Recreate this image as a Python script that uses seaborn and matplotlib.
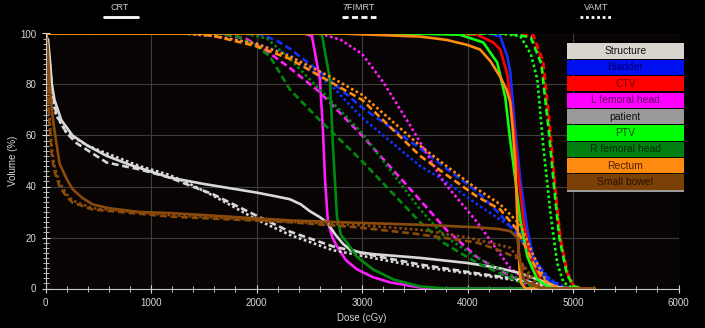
import pandas as pd
import matplotlib
matplotlib.use('Agg')
import matplotlib.pyplot as plt
from matplotlib.lines import Line2D
from matplotlib.patches import Rectangle
from matplotlib.ticker import MultipleLocator
import seaborn as sns

structures = ['Bladder', 'CTV', 'L femoral head', 'patient', 'PTV',
              'R femoral head', 'Rectum', 'Small bowel']
techniques = ['CRT', '7FIMRT', 'VAMT']

# DVH points (dose cGy, volume %)
bladder_crt = [(0, 100), (4200, 100), (4310, 99), (4377, 91), (4405, 85), (4453, 62), (4500, 43),
               (4567, 23), (4623, 12.5), (4718, 4.7), (4785, 2.4), (4900, 0), (5200, 0)]
bladder_7f = [(0, 100), (1800, 100), (2060, 99.5), (2200, 97), (2317, 94), (2600, 85), (3000, 71),
              (3551, 55), (3769, 48), (4092, 38), (4310, 29), (4472, 21), (4623, 12.5), (4750, 4.7),
              (4900, 0), (5200, 0)]
bladder_vamt = [(0, 100), (1300, 100), (1600, 99), (2000, 96), (2317, 91.5), (2700, 80), (3000, 67),
                (3551, 48), (3769, 42.7), (4092, 33), (4310, 27), (4500, 22), (4623, 11.5), (4785, 3.5),
                (4950, 0), (5200, 0)]

ctv_crt = [(0, 100), (3700, 100), (4092, 99.5), (4244, 96.5), (4310, 93.7), (4377, 84), (4434, 65),
           (4481, 45), (4529, 27), (4595, 12.5), (4690, 3.5), (4785, 0.8), (4900, 0), (5200, 0)]
ctv_7f = [(0, 100), (4500, 100), (4623, 99.5), (4718, 89), (4785, 62), (4832, 39), (4880, 20),
          (4946, 6), (5003, 0.8), (5080, 0), (5200, 0)]
ctv_vamt = [(0, 100), (4450, 100), (4600, 99), (4700, 90), (4770, 65), (4830, 40), (4880, 20),
            (4950, 6), (5010, 1), (5100, 0), (5200, 0)]

lfem_crt = [(0, 100), (2450, 100), (2525, 99), (2601, 82), (2630, 62), (2649, 43), (2677, 26),
            (2720, 20), (2763, 16.5), (2850, 11), (2953, 7.5), (3100, 4.5), (3266, 2.4), (3551, 0.4),
            (3700, 0), (5200, 0)]
lfem_7f = [(0, 100), (1650, 100), (1900, 98), (2100, 93), (2300, 87), (2600, 77), (3000, 60),
           (3500, 37), (3800, 23), (4100, 12), (4400, 5), (4600, 1), (4700, 0), (5200, 0)]
lfem_vamt = [(0, 100), (2600, 100), (2800, 97.5), (3000, 92), (3200, 81), (3456, 64), (3769, 42),
             (4092, 26), (4405, 8), (4600, 2), (4800, 0), (5200, 0)]

patient_crt = [(0, 100), (25, 97), (45, 88), (60, 80), (85, 74), (150, 66), (256, 60), (400, 56),
               (580, 52), (800, 48.5), (1177, 43.5), (1500, 41), (2003, 37.6), (2200, 36),
               (2317, 35), (2420, 33), (2506, 30.3), (2600, 28), (2668, 25.9), (2750, 21),
               (2820, 17.5), (2886, 15.3), (2980, 14.2), (3100, 13.5), (3551, 12), (4000, 10),
               (4300, 8), (4500, 6), (4700, 3), (4850, 0.5), (5000, 0), (5200, 0)]
patient_7f = [(0, 100), (25, 96), (45, 86), (70, 76), (104, 68), (200, 61), (294, 57), (580, 49.4),
              (892, 46.7), (1177, 43.5), (1367, 40.4), (1585, 37), (2003, 28.5), (2317, 22.3),
              (2725, 16.5), (3100, 13), (3551, 9.4), (4000, 6.5), (4500, 3.5), (4700, 1.5), (4850, 0),
              (5200, 0)]
patient_vamt = [(0, 100), (25, 95), (45, 84), (60, 76), (100, 68), (200, 61), (400, 56), (580, 53),
                (892, 48), (1177, 44.5), (1367, 41), (1585, 36.5), (2003, 27), (2317, 21), (2725, 15),
                (3100, 12), (3551, 8.5), (4000, 6), (4500, 3), (4700, 1), (4850, 0), (5200, 0)]

ptv_crt = [(0, 100), (3500, 100), (3930, 99.5), (4149, 96.5), (4282, 88.6), (4358, 75), (4405, 58),
           (4453, 43), (4500, 27), (4567, 12.5), (4662, 3.5), (4760, 0.8), (4850, 0), (5200, 0)]
ptv_7f = [(0, 100), (4400, 100), (4600, 98.5), (4700, 88), (4770, 62), (4820, 40), (4870, 20),
          (4940, 6), (5000, 1), (5080, 0), (5200, 0)]
ptv_vamt = [(0, 100), (4300, 100), (4500, 99), (4600, 92), (4662, 82), (4718, 56), (4785, 30),
            (4850, 10), (4910, 2.4), (5000, 0), (5200, 0)]

rfem_crt = [(0, 100), (2550, 100), (2620, 99.6), (2696, 82), (2725, 55.7), (2763, 28), (2800, 21),
            (2858, 18), (2950, 12.5), (3104, 7.5), (3300, 3.5), (3551, 0.8), (3800, 0), (5200, 0)]
rfem_7f = [(0, 100), (1600, 100), (1813, 99), (2000, 95), (2127, 91), (2317, 78), (2600, 66),
           (3000, 50), (3551, 26), (3769, 18), (4092, 10), (4500, 2.4), (4700, 0), (5200, 0)]
rfem_vamt = [(0, 100), (1900, 100), (2100, 98), (2317, 90), (2600, 78), (3000, 61), (3551, 31),
             (3769, 21), (4092, 12), (4500, 3.5), (4700, 0), (5200, 0)]

rectum_crt = [(0, 100), (2800, 100), (3300, 99.2), (3551, 98.8), (3800, 97.5), (4000, 95.5),
              (4120, 93.7), (4220, 89), (4310, 83), (4370, 78), (4405, 73), (4430, 62), (4453, 49),
              (4470, 30), (4481, 18), (4495, 6), (4510, 2), (4550, 0), (5200, 0)]
rectum_7f = [(0, 100), (1400, 100), (1600, 99), (2000, 95), (2317, 90), (2700, 81), (3000, 74),
             (3551, 52), (3769, 45.5), (4092, 36), (4310, 31), (4472, 23), (4623, 10), (4718, 3.5),
             (4850, 0), (5200, 0)]
rectum_vamt = [(0, 100), (1300, 100), (1600, 99), (2000, 96), (2317, 91), (2700, 83), (3000, 76),
               (3551, 56), (3769, 49), (4092, 39), (4310, 33), (4500, 25), (4623, 13), (4750, 2.4),
               (4900, 0), (5200, 0)]

bowel_crt = [(0, 100), (20, 95), (38, 81), (60, 70), (85, 62), (133, 49), (200, 43), (256, 39),
             (350, 35.5), (446, 33), (600, 31.5), (892, 30), (1177, 29.6), (2003, 27.5), (2317, 26.7),
             (3000, 25.7), (3551, 25), (4092, 24), (4300, 23.3), (4405, 22.5), (4472, 20), (4500, 10),
             (4530, 4), (4567, 2.4), (4700, 0), (5200, 0)]
bowel_7f = [(0, 100), (15, 95), (30, 69), (60, 52), (85, 46), (133, 40), (200, 36), (256, 33.7),
            (446, 31), (1177, 28.2), (2317, 26), (2953, 24), (3500, 21.5), (4092, 18), (4300, 15),
            (4500, 11.4), (4595, 2.4), (4700, 0), (5200, 0)]
bowel_vamt = [(0, 100), (15, 95), (30, 72), (60, 55), (85, 48), (133, 41.5), (200, 37), (256, 34.5),
              (446, 31.5), (1177, 28.8), (2317, 26.2), (3000, 24.8), (3551, 23), (4000, 20),
              (4405, 16), (4550, 8), (4650, 2), (4750, 0), (5200, 0)]

line_colors = ['#1030ff', '#ff0000', '#ff1eff', '#d8d8d8', '#10ff10', '#008a10', '#ff8c10', '#8a4a0c']
legend_bg = ['#0010f0', '#ff0000', '#ff00ff', '#999999', '#00ff00', '#008010', '#ff8a10', '#7a4006']
legend_fg = ['#000070', '#700000', '#600060', '#111111', '#005000', '#002800', '#502000', '#2a1000']

curves = {
    ('Bladder', 'CRT'): bladder_crt, ('Bladder', '7FIMRT'): bladder_7f, ('Bladder', 'VAMT'): bladder_vamt,
    ('CTV', 'CRT'): ctv_crt, ('CTV', '7FIMRT'): ctv_7f, ('CTV', 'VAMT'): ctv_vamt,
    ('L femoral head', 'CRT'): lfem_crt, ('L femoral head', '7FIMRT'): lfem_7f,
    ('L femoral head', 'VAMT'): lfem_vamt,
    ('patient', 'CRT'): patient_crt, ('patient', '7FIMRT'): patient_7f, ('patient', 'VAMT'): patient_vamt,
    ('PTV', 'CRT'): ptv_crt, ('PTV', '7FIMRT'): ptv_7f, ('PTV', 'VAMT'): ptv_vamt,
    ('R femoral head', 'CRT'): rfem_crt, ('R femoral head', '7FIMRT'): rfem_7f,
    ('R femoral head', 'VAMT'): rfem_vamt,
    ('Rectum', 'CRT'): rectum_crt, ('Rectum', '7FIMRT'): rectum_7f, ('Rectum', 'VAMT'): rectum_vamt,
    ('Small bowel', 'CRT'): bowel_crt, ('Small bowel', '7FIMRT'): bowel_7f,
    ('Small bowel', 'VAMT'): bowel_vamt,
}

rows = []
for (s, t), pts in curves.items():
    for d, v in pts:
        rows.append({'structure': s, 'technique': t, 'dose': d, 'volume': v})
df = pd.DataFrame(rows)

sns.set_style('dark')
plt.rcParams['font.family'] = ['Liberation Sans', 'DejaVu Sans']

fig = plt.figure(figsize=(7.05, 3.28), dpi=100, facecolor='black')
ax = fig.add_axes([45.5 / 705, 39.5 / 328, 633 / 705, 255 / 328])
ax.set_facecolor('#080404')

sns.lineplot(data=df, x='dose', y='volume', hue='structure', style='technique',
             hue_order=structures, style_order=techniques,
             palette=dict(zip(structures, line_colors)),
             dashes={'CRT': '', '7FIMRT': (2.6, 1.4), 'VAMT': (1, 1)},
             estimator=None, lw=1.9, legend=False, ax=ax)

ax.set_xlim(0, 6000)
ax.set_ylim(0, 100)
ax.xaxis.set_major_locator(MultipleLocator(1000))
ax.xaxis.set_minor_locator(MultipleLocator(200))
ax.yaxis.set_major_locator(MultipleLocator(20))
ax.yaxis.set_minor_locator(MultipleLocator(2))
ax.grid(True, which='major', color='#3c3c3c', lw=0.8)
ax.set_axisbelow(True)
ax.tick_params(which='major', direction='inout', length=6, width=0.8, colors='#d8d8d8',
               labelsize=7, bottom=True, left=True)
ax.tick_params(which='minor', direction='inout', length=4, width=0.6, color='#d8d8d8',
               bottom=True, left=True)
for side in ['left', 'bottom']:
    ax.spines[side].set_color('#c8c8c8')
    ax.spines[side].set_linewidth(0.8)
for side in ['top', 'right']:
    ax.spines[side].set_visible(False)
ax.set_xlabel('Dose (cGy)', color='#d8d8d8', fontsize=7, labelpad=4)
ax.set_ylabel('Volume (%)', color='#d8d8d8', fontsize=7, labelpad=2)

# technique key at the top
for label, cx, x0, x1, ls in [('CRT', 120, 104, 138, '-'), ('7FIMRT', 359, 342, 376, (0, (2.2, 1.2))),
                              ('VAMT', 596, 580, 613, (0, (1, 1)))]:
    fig.text(cx / 705, 1 - 7.5 / 328, label, ha='center', va='center', color='#d0d0d0', fontsize=6.5)
    fig.add_artist(Line2D([x0 / 705, x1 / 705], [1 - 17 / 328] * 2, transform=fig.transFigure,
                          color='white', lw=2, ls=ls))

# structure key on the right
lax = fig.add_axes([566.7 / 705, (328 - 191.7) / 328, (684 - 566.7) / 705, 148.4 / 328])
lax.set_xlim(0, 1)
lax.set_ylim(148.4, 0)
lax.axis('off')
row_h = 16.4
names = ['Structure'] + structures
bgs = ['#d8d5cf'] + legend_bg
fgs = ['#111111'] + legend_fg
for i, (n, bg, fg) in enumerate(zip(names, bgs, fgs)):
    top = i * row_h
    lax.add_patch(Rectangle((0, top), 1, row_h - 1.2, facecolor=bg, edgecolor='none'))
    lax.text(0.5, top + (row_h - 1.2) / 2, n, ha='center', va='center', color=fg, fontsize=7.5)
lax.add_patch(Rectangle((0, 9 * row_h - 1), 1, 2.4, facecolor='#9a9a9a', edgecolor='none'))

fig.savefig('out.png', dpi=100, facecolor='black')
